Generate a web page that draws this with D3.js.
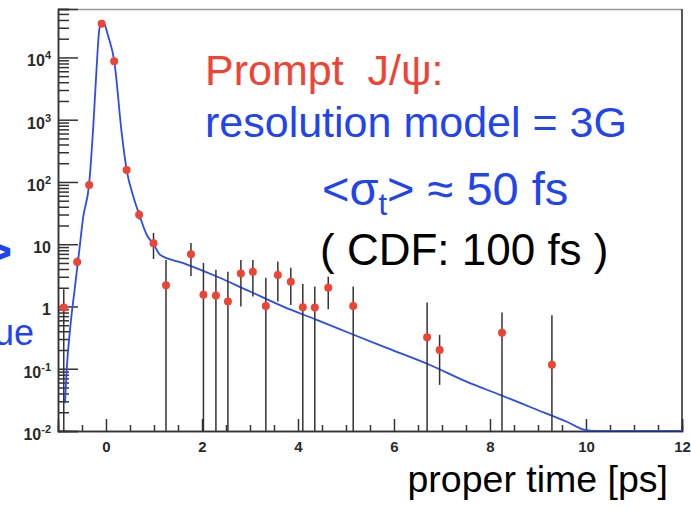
<!DOCTYPE html>
<html>
<head>
<meta charset="utf-8">
<script src="https://cdn.jsdelivr.net/npm/d3@7"></script>
<style>
    body { margin: 0; background: #fff; }
    text { font-family: "Liberation Sans", Arial, sans-serif; }
</style>
</head>
<body>
<div id="chart_panel"></div>
<script>

// measured points (proper time in ps, counts) with asymmetric error bars
const pointTime = [-0.88, -0.60, -0.35, -0.09, 0.17, 0.43, 0.69, 0.99, 1.25, 1.77, 2.03, 2.29, 2.54,
    2.81, 3.06, 3.33, 3.58, 3.85, 4.10, 4.35, 4.63, 5.15, 6.69, 6.95, 8.25, 9.29];
const pointCount = [0.96, 5.2, 89, 34900, 8650, 155, 29.7, 10.4, 2.2, 6.9, 1.54, 1.5, 1.2,
    3.4, 3.6, 1.02, 3.2, 2.5, 0.97, 0.96, 2.0, 1.02, 0.32, 0.2, 0.38, 0.116];
const errLow = [0.001, 4.4, 80, 34000, 8400, 140, 25, 5.8, 0.001, 3.1, 0.001, 0.001, 0.001,
    1.0, 1.44, 0.001, 1.2, 1.06, 0.001, 0.001, 0.9, 0.001, 0.001, 0.055, 0.001, 0.001];
const errHigh = [1.9, 6.1, 98, 35800, 8900, 170, 35, 15.2, 5.6, 10.5, 5.0, 3.9, 3.6,
    5.6, 5.6, 2.9, 5.3, 4.2, 2.3, 2.1, 3.0, 2.1, 1.16, 0.35, 0.8, 0.72];

// fitted model (resolution model = 3G)
const curveTime = [-0.854, -0.819, -0.75, -0.646, -0.563, -0.473, -0.354, -0.265, -0.194, -0.14,
    -0.09, -0.05, 0.048, 0.173, 0.327, 0.431, 0.569, 0.694, 0.848, 1.0, 1.125, 1.61, 2.306, 3.0,
    3.694, 4.39, 5.08, 5.78, 6.75, 7.51, 8.21, 8.90, 9.60, 9.98, 10.2, 12.0];
const curveValue = [0.028, 0.096, 0.42, 2.09, 7.2, 27.9, 89, 780, 7190, 28000,
    36600, 36000, 21800, 8650, 611, 155, 58.5, 29.7, 14.2, 9.8, 6.76, 4.97, 3.03, 1.74,
    0.995, 0.61, 0.372, 0.226, 0.115, 0.062, 0.038, 0.0232, 0.0141, 0.0104, 0.01, 0.01];

// axis ticks
const xTickValues = [0, 2, 4, 6, 8, 10, 12];
const yTickValues = [1e-2, 1e-1, 1, 10, 1e2, 1e3, 1e4];
const yTickBase = ["10", "10", "1", "10", "10", "10", "10"];
const yTickPower = ["-2", "-1", "", "", "2", "3", "4"];

class ProperTimeView {

    constructor(container) {
        this.container = container;
        this.width = 691;
        this.height = 509;
        this.margin = {left: 58, top: 9, right: 9, bottom: 78};
        this.red = '#ef4434';
        this.blue = '#1f44f0';
    }

    init() {
        d3.select(this.container).html("");

        this.svg = d3.select(this.container)
            .append('svg')
            .attr('width', this.width)
            .attr('height', this.height);

        this.plotW = this.width - this.margin.left - this.margin.right;
        this.plotH = this.height - this.margin.top - this.margin.bottom;

        this.x = d3.scaleLinear()
            .domain([-1, 12])
            .range([this.margin.left, this.margin.left + this.plotW]);
        this.y = d3.scaleLog()
            .domain([0.01, 6e4])
            .range([this.margin.top + this.plotH, this.margin.top]);

        this.svg.append('clipPath')
            .attr('id', 'plot_clip')
            .append('rect')
            .attr('x', this.margin.left)
            .attr('y', this.margin.top)
            .attr('width', this.plotW)
            .attr('height', this.plotH);
    }

    draw() {
        this.init();
        this.drawAxes();
        this.drawCurve();
        this.drawPoints();
        this.drawAnnotations();
    }

    drawAxes() {
        let left = this.margin.left, top = this.margin.top;
        let bottom = top + this.plotH, right = left + this.plotW;

        //frame: top edge is light, right edge dark
        this.svg.append('line')
            .attr('x1', left).attr('x2', right).attr('y1', top + 0.5).attr('y2', top + 0.5)
            .style('stroke', '#9a9a9a').style('stroke-width', 1.3);
        this.svg.append('line')
            .attr('x1', right).attr('x2', right).attr('y1', top).attr('y2', bottom)
            .style('stroke', '#222').style('stroke-width', 1.5);

        //x axis, ticks pointing inside
        let minorX = d3.range(-0.5, 12, 0.5).filter(d => xTickValues.indexOf(d) < 0);
        let xMinor = this.svg.append('g')
            .attr('transform', 'translate(0,' + bottom + ')')
            .call(d3.axisBottom(this.x).tickValues(minorX).tickSize(-6).tickFormat(''));
        let xMajor = this.svg.append('g')
            .attr('transform', 'translate(0,' + bottom + ')')
            .call(d3.axisBottom(this.x).tickValues(xTickValues).tickSize(-12).tickPadding(10));
        xMajor.selectAll('text')
            .attr('font-size', null)
            .style('font-size', '15px')
            .style('font-weight', 'bold')
            .style('fill', '#2a2a2a');

        //y axis, log scale with minor ticks
        let minorY = this.y.ticks().filter(d => yTickValues.indexOf(d) < 0);
        let yMinor = this.svg.append('g')
            .attr('transform', 'translate(' + left + ',0)')
            .call(d3.axisLeft(this.y).tickValues(minorY).tickSize(-11).tickFormat(''));
        let yMajor = this.svg.append('g')
            .attr('transform', 'translate(' + left + ',0)')
            .call(d3.axisLeft(this.y).tickValues(yTickValues).tickSize(-20).tickFormat(''));

        [xMinor, xMajor, yMinor, yMajor].forEach(g => {
            g.selectAll('.domain').style('stroke', '#333').style('stroke-width', 1.5);
            g.selectAll('.tick line').style('stroke', '#333').style('stroke-width', 1.5);
        });

        //decade labels with superscript powers
        let labels = this.svg.append('g').selectAll('.yLabel')
            .data(yTickValues)
            .enter()
            .append('text')
            .attr('x', left - 7)
            .attr('y', d => this.y(d) + 9)
            .attr('text-anchor', 'end')
            .style('font-size', '16px')
            .style('font-weight', 'bold')
            .style('fill', '#2a2a2a');
        labels.append('tspan').text((d, i) => yTickBase[i]);
        labels.append('tspan')
            .attr('dy', -7)
            .style('font-size', '11px')
            .text((d, i) => yTickPower[i]);
    }

    drawCurve() {
        let line = d3.line()
            .x(d => this.x(d[0]))
            .y(d => this.y(d[1]))
            .curve(d3.curveMonotoneX);

        this.svg.append('path')
            .datum(curveTime.map((t, i) => [t, curveValue[i]]))
            .attr('clip-path', 'url(#plot_clip)')
            .attr('d', line)
            .style('fill', 'none')
            .style('stroke', '#2a4cf2')
            .style('stroke-width', 1.8);
    }

    drawPoints() {
        let [lo, hi] = this.y.domain();
        let clamp = v => Math.max(lo, Math.min(hi, v));

        let g = this.svg.append('g').attr('clip-path', 'url(#plot_clip)');

        g.selectAll('.errBar')
            .data(pointTime)
            .enter()
            .append('line')
            .attr('x1', d => this.x(d))
            .attr('x2', d => this.x(d))
            .attr('y1', (d, i) => this.y(clamp(errLow[i])))
            .attr('y2', (d, i) => this.y(clamp(errHigh[i])))
            .style('stroke', '#333')
            .style('stroke-width', 1.5);

        g.selectAll('.point')
            .data(pointTime)
            .enter()
            .append('circle')
            .attr('cx', d => this.x(d))
            .attr('cy', (d, i) => this.y(pointCount[i]))
            .attr('r', 4)
            .style('fill', this.red);
    }

    drawAnnotations() {
        let svg = this.svg;

        svg.append('text')
            .attr('x', 205).attr('y', 85)
            .style('font-size', '43px')
            .style('fill', this.red)
            .text('Prompt\u00a0\u00a0J/\u03c8:');

        svg.append('text')
            .attr('x', 205).attr('y', 137)
            .style('font-size', '43px')
            .style('fill', this.blue)
            .text('resolution model = 3G');

        let sigma = svg.append('text')
            .attr('x', 322).attr('y', 205)
            .style('font-size', '47px')
            .style('fill', this.blue);
        sigma.append('tspan').text('<\u03c3');
        sigma.append('tspan').attr('dy', 10).style('font-size', '31px').text('t');
        sigma.append('tspan').attr('dy', -10).text('> \u2248 50 fs');

        svg.append('text')
            .attr('x', 320).attr('y', 265)
            .style('font-size', '44px')
            .style('fill', '#000')
            .text('( CDF: 100 fs )');

        //x axis title
        svg.append('text')
            .attr('x', 668).attr('y', 492)
            .attr('text-anchor', 'end')
            .style('font-size', '37.5px')
            .style('fill', '#000')
            .text('proper time [ps]');

        //pieces of slide text cut at the left border
        svg.append('text')
            .attr('x', 34).attr('y', 345)
            .attr('text-anchor', 'end')
            .style('font-size', '36px')
            .style('fill', this.blue)
            .text('ue');
        svg.append('text')
            .attr('x', 12).attr('y', 268)
            .attr('text-anchor', 'end')
            .style('font-size', '48px')
            .style('font-weight', 'bold')
            .style('fill', this.blue)
            .text('>');
    }
}

let view = new ProperTimeView('#chart_panel');
view.draw();

</script>
</body>
</html>
